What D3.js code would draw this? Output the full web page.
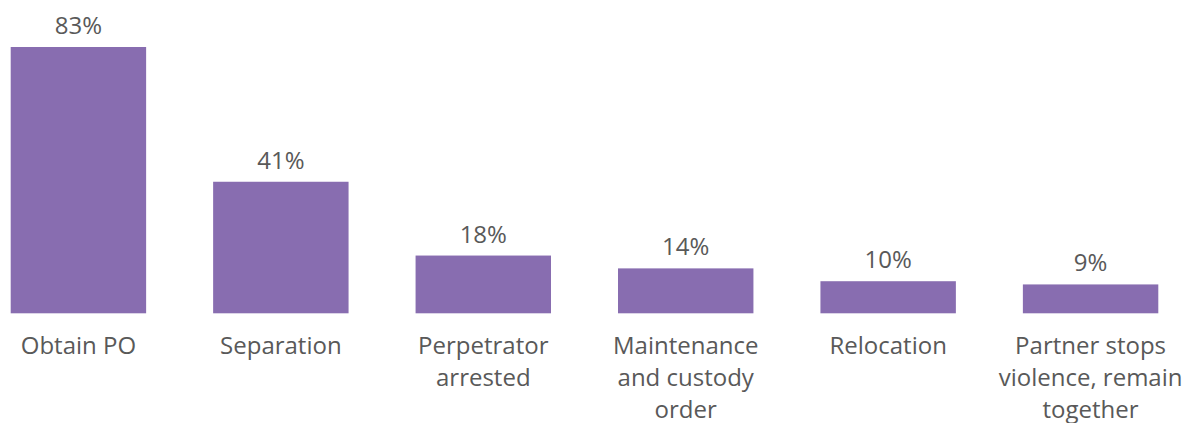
<!DOCTYPE html>
<html>
<head>
<meta charset="utf-8">
<script src="https://cdn.jsdelivr.net/npm/d3@7"></script>
<style>
  html, body { margin: 0; padding: 0; background: #ffffff; }
  svg { display: block; }
  text { font-family: "Open Sans", "Noto Sans", sans-serif; fill: #595959; }
</style>
</head>
<body>
<svg id="chart" width="1188" height="423"></svg>
<script>
// Outcomes reported, share of respondents
const categories = ["Obtain PO", "Separation", "Perpetrator arrested", "Maintenance and custody order", "Relocation", "Partner stops violence, remain together"];
const categoryLines = [
  ["Obtain PO"],
  ["Separation"],
  ["Perpetrator", "arrested"],
  ["Maintenance", "and custody", "order"],
  ["Relocation"],
  ["Partner stops", "violence, remain", "together"]
];
const values = [83, 41, 18, 14, 10, 9];
const valueLabels = ["83%", "41%", "18%", "14%", "10%", "9%"];

const svg = d3.select("#chart");
const baseline = 313.3;

const x = d3.scaleBand()
  .domain(categories)
  .range([10.7, 1158.3])
  .paddingInner(0.331)
  .paddingOuter(0);

const y = d3.scaleLinear()
  .domain([0, 83])
  .range([baseline, 47]);

const barColor = "#886db0";

svg.append("g")
  .selectAll("rect")
  .data(values)
  .join("rect")
  .attr("x", (d, i) => x(categories[i]))
  .attr("y", d => y(d))
  .attr("width", x.bandwidth())
  .attr("height", d => y(0) - y(d))
  .attr("fill", barColor);

// value labels above bars
svg.append("g")
  .selectAll("text")
  .data(values)
  .join("text")
  .attr("x", (d, i) => x(categories[i]) + x.bandwidth() / 2)
  .attr("y", d => y(d) - 13)
  .attr("text-anchor", "middle")
  .style("font-size", "24px")
  .text((d, i) => valueLabels[i]);

// category axis with wrapped labels
const axis = svg.append("g")
  .attr("transform", `translate(0,${baseline})`)
  .call(d3.axisBottom(x).tickSize(0).tickPadding(0));
axis.select(".domain").remove();
axis.selectAll(".tick text").each(function(d, i) {
  const t = d3.select(this);
  t.text(null)
    .attr("y", 0)
    .attr("dy", null)
    .style("font-size", "24px")
    .style("font-family", "'Open Sans', 'Noto Sans', sans-serif")
    .attr("fill", "#595959");
  categoryLines[i].forEach((line, j) => {
    t.append("tspan")
      .attr("x", 0)
      .attr("y", 41 + j * 31.7)
      .text(line);
  });
});
</script>
</body>
</html>
